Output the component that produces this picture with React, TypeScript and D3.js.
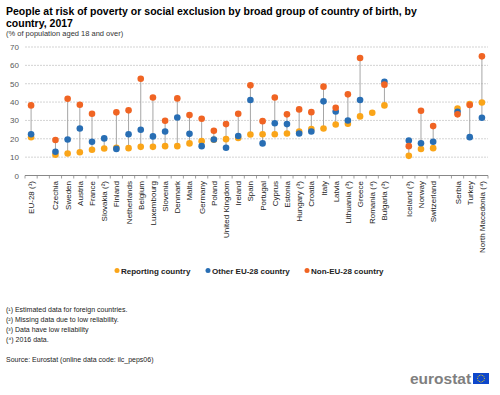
import React from "react";
import * as d3 from "d3";

const categories = [
  "EU-28 (¹)", "", "Czechia", "Sweden", "Austria", "France", "Slovakia (²)", "Finland",
  "Netherlands", "Belgium", "Luxembourg", "Slovenia", "Denmark", "Malta", "Germany",
  "Poland", "United Kingdom", "Ireland", "Spain", "Portugal", "Cyprus", "Estonia",
  "Hungary (³)", "Croatia", "Italy", "Latvia", "Lithuania (³)", "Greece", "Romania (⁴)",
  "Bulgaria (³)", " ", "Iceland (³)", "Norway", "Switzerland", "  ", "Serbia", "Turkey",
  "North Macedonia (⁴)",
];

const reporting: (number | null)[] = [
  20.8, null, 11.3, 12.0, 12.7, 14.0, 14.7, 15.1, 14.9, 15.6, 15.6, 16.0, 16.0, 17.5, 18.7,
  19.5, 19.8, 20.4, 22.3, 22.5, 22.5, 22.9, 24.0, 25.3, 25.6, 27.8, 28.2, 32.2, 34.2, 38.2,
  null, 10.7, 14.4, 14.9, null, 36.5, 38.9, 39.8,
];
const otherEU: (number | null)[] = [
  22.5, null, 12.9, 19.6, 25.6, 18.4, 20.2, 14.5, 22.5, 24.9, 21.3, 24.0, 31.6, 22.7, 16.0,
  19.6, 15.1, 21.5, 41.1, 17.5, 28.5, 28.0, 22.9, 24.0, 40.4, 34.9, 30.0, 41.1, null, 51.1,
  null, 19.1, 17.6, 18.4, null, 34.7, 20.9, 31.5,
];
const nonEU: (number | null)[] = [
  38.2, null, 19.3, 41.8, 38.5, 33.6, null, 34.4, 35.5, 52.7, 42.5, 29.8, 42.0, 32.9, 30.9,
  24.4, 28.0, 33.6, 49.1, 29.6, 42.5, 33.3, 36.0, 34.5, 48.4, 36.9, 44.2, 64.0, null, 49.5,
  null, 16.0, 35.3, 26.9, null, 33.3, 38.4, 64.9,
];

const yTicks = [0, 10, 20, 30, 40, 50, 60, 70];
const seriesNames = ["Reporting country", "Other EU-28 country", "Non-EU-28 country"];
const colors = ["#FAA519", "#286EB4", "#F06423"];
const footnotes = [
  "(¹) Estimated data for foreign countries.",
  "(²) Missing data due to low reliability.",
  "(³) Data have low reliability",
  "(⁴) 2016 data.",
];

const FONT = "'Liberation Sans', Arial, sans-serif";

export default function App() {
  const W = 500, H = 395;
  const x0 = 25, x1 = 488;
  const x = d3.scaleBand<number>().domain(d3.range(categories.length)).range([x0, x1]).padding(0);
  const y = d3.scaleLinear().domain([0, 70]).range([175.5, 47]);
  const series = [reporting, otherEU, nonEU];
  const legendX = [117, 208, 307];

  return (
    <svg width={W} height={H} style={{ position: "absolute", left: 0, top: 0, background: "#fff" }} fontFamily={FONT}>
      <rect width={W} height={H} fill="#fff" />
      <text x={6} y={15} fontSize={10.5} fontWeight="bold" fill="#000">
        People at risk of poverty or social exclusion by broad group of country of birth, by
      </text>
      <text x={6} y={27} fontSize={10.5} fontWeight="bold" fill="#000">country, 2017</text>
      <text x={6} y={36} fontSize={7.5} fill="#333">(% of population aged 18 and over)</text>

      {yTicks.map((t) => (
        <g key={t}>
          {t > 0 && (
            <line x1={x0} x2={x1} y1={y(t)} y2={y(t)} stroke="#c8c8c8" strokeWidth={0.8} strokeDasharray="2,1" />
          )}
          <text x={19} y={y(t) + 3} fontSize={8} textAnchor="end" fill="#595959">{t}</text>
        </g>
      ))}

      <line x1={x0} x2={x1} y1={y(0)} y2={y(0)} stroke="#888" strokeWidth={1} />
      {d3.range(categories.length + 1).map((i) => {
        const xx = i < categories.length ? x(i)! : x1;
        return <line key={"t" + i} x1={xx} x2={xx} y1={y(0)} y2={y(0) + 3} stroke="#888" strokeWidth={0.8} />;
      })}

      {categories.map((c, i) => {
        const vals = series.map((s) => s[i]).filter((v): v is number => v != null);
        if (vals.length < 2) return null;
        const cx = x(i)! + x.bandwidth() / 2;
        return (
          <line key={"l" + i} x1={cx} x2={cx} y1={y(d3.min(vals)!)} y2={y(d3.max(vals)!)} stroke="#a6a6a6" strokeWidth={1} />
        );
      })}

      {series.map((s, si) =>
        s.map((v, i) =>
          v == null ? null : (
            <circle key={si + "-" + i} cx={x(i)! + x.bandwidth() / 2} cy={y(v)} r={3.3} fill={colors[si]} />
          )
        )
      )}

      {categories.map((c, i) => {
        const cx = x(i)! + x.bandwidth() / 2 + 3;
        return (
          <text key={"c" + i} transform={`translate(${cx},181) rotate(-90)`} fontSize={8} textAnchor="end" fill="#222">
            {c.trim()}
          </text>
        );
      })}

      {seriesNames.map((n, i) => (
        <g key={n}>
          <circle cx={legendX[i]} cy={270.5} r={2.5} fill={colors[i]} />
          <text x={legendX[i] + 4} y={273.5} fontSize={8} fontWeight="bold" fill="#222">{n}</text>
        </g>
      ))}

      {footnotes.map((f, i) => (
        <text key={f} x={6} y={[311.5, 321.5, 331.5, 341.5][i]} fontSize={7} fill="#222">{f}</text>
      ))}
      <text x={6} y={361.5} fontSize={7} fill="#222">Source: Eurostat (online data code: ilc_peps06)</text>

      <text x={410} y={383.5} fontSize={15.5} fontWeight="bold" fill="#7f7f7f">eurostat</text>
      <rect x={473} y={373} width={16} height={11} fill="#0E47CB" />
      {d3.range(12).map((k) => {
        const a = (k / 12) * 2 * Math.PI;
        return <circle key={"s" + k} cx={481 + 3.4 * Math.cos(a)} cy={378.5 + 3.4 * Math.sin(a)} r={0.5} fill="#FFDD00" />;
      })}
    </svg>
  );
}
